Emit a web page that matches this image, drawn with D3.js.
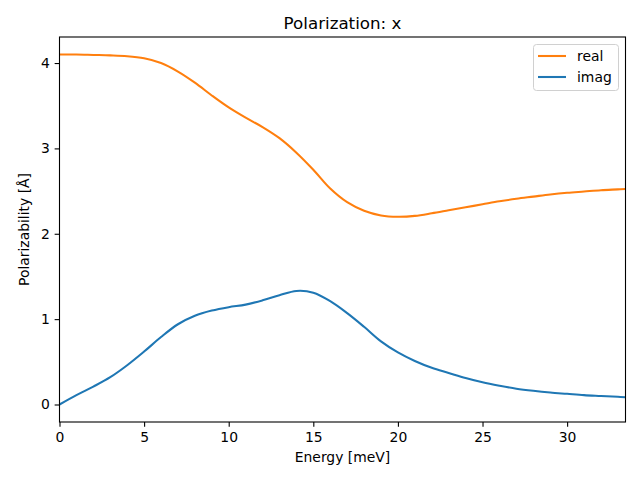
<!DOCTYPE html>
<html>
<head>
<meta charset="utf-8">
<script src="https://cdn.jsdelivr.net/npm/d3@7"></script>
<style>
  html, body { margin: 0; padding: 0; background: #fff; }
  text { font-family: "DejaVu Sans", sans-serif; }
</style>
</head>
<body>
<svg id="chart" width="640" height="480"></svg>
<script>
const energy = [0,1,2,3,4,5,6,7,8,9,10,11,12,13,14,15,16,17,18,19,20,21,22,23,24,25,26,27,28,29,30,31,32,33,33.45];
const realVals = [4.10,4.10,4.095,4.09,4.08,4.055,4.00,3.90,3.77,3.62,3.48,3.36,3.25,3.12,2.95,2.75,2.53,2.37,2.27,2.215,2.20,2.21,2.24,2.275,2.31,2.345,2.38,2.41,2.435,2.46,2.48,2.495,2.51,2.52,2.525];
const imagVals = [0.0,0.11,0.21,0.32,0.46,0.62,0.79,0.94,1.04,1.10,1.14,1.17,1.22,1.28,1.33,1.31,1.21,1.07,0.91,0.74,0.61,0.51,0.43,0.37,0.31,0.26,0.22,0.185,0.16,0.14,0.125,0.11,0.10,0.09,0.085];
const xTicks = [0,5,10,15,20,25,30];
const yTicks = [0,1,2,3,4];
const seriesNames = ["real","imag"];
const seriesColors = ["#ff7f0e","#1f77b4"];
const titleText = "Polarization: x";
const xLabel = "Energy [meV]";
const yLabel = "Polarizability [Å]";

const svg = d3.select("#chart");
const L = 59.5, R = 625.5, T = 37, B = 422;
const x = d3.scaleLinear().domain([0, 33.45]).range([L, R]);
const y = d3.scaleLinear().domain([-0.205, 4.305]).range([B, T]);

svg.append("defs").append("clipPath").attr("id","clip")
  .append("rect").attr("x",L).attr("y",T).attr("width",R-L).attr("height",B-T);

const line = d3.line().x(d => x(d[0])).y(d => y(d[1])).curve(d3.curveCatmullRom.alpha(0.5));
const seriesData = [realVals, imagVals];
seriesData.forEach((vals, i) => {
  svg.append("path")
    .datum(energy.map((e, j) => [e, vals[j]]))
    .attr("d", line)
    .attr("fill","none")
    .attr("stroke", seriesColors[i])
    .attr("stroke-width", 2.08)
    .attr("stroke-linejoin","round")
    .attr("clip-path","url(#clip)");
});

const xAxis = svg.append("g").attr("transform",`translate(0,${B})`)
  .call(d3.axisBottom(x).tickValues(xTicks).tickSize(4.86).tickPadding(4.86).tickFormat(d3.format("d")));
const yAxis = svg.append("g").attr("transform",`translate(${L},0)`)
  .call(d3.axisLeft(y).tickValues(yTicks).tickSize(4.86).tickPadding(4.86).tickFormat(d3.format("d")));
[xAxis, yAxis].forEach(g => {
  g.select(".domain").remove();
  g.selectAll(".tick line").attr("stroke","#000").attr("stroke-width",1.1);
  g.selectAll(".tick text").attr("fill","#000").style("font-size","13.9px").style("font-family","DejaVu Sans");
});

svg.append("rect").attr("x",L).attr("y",T).attr("width",R-L).attr("height",B-T)
  .attr("fill","none").attr("stroke","#000").attr("stroke-width",1.1);

svg.append("text").attr("x",(L+R)/2).attr("y",29).attr("text-anchor","middle")
  .style("font-size","16.7px").text(titleText);
svg.append("text").attr("x",(L+R)/2).attr("y",462).attr("text-anchor","middle")
  .style("font-size","13.9px").text(xLabel);
svg.append("text").attr("transform",`translate(29,${(T+B)/2}) rotate(-90)`).attr("text-anchor","middle")
  .style("font-size","13.9px").text(yLabel);

const lg = svg.append("g");
lg.append("rect").attr("x",533.5).attr("y",44.5).attr("width",85).attr("height",46).attr("rx",3)
  .attr("fill","#fff").attr("fill-opacity",0.8).attr("stroke","#d0d0d0").attr("stroke-width",1);
seriesNames.forEach((n, i) => {
  const yy = 56 + i * 21;
  lg.append("line").attr("x1",538).attr("x2",566).attr("y1",yy).attr("y2",yy)
    .attr("stroke",seriesColors[i]).attr("stroke-width",2.08);
  lg.append("text").attr("x",577).attr("y",yy+5).style("font-size","13.9px").text(n);
});
</script>
</body>
</html>
